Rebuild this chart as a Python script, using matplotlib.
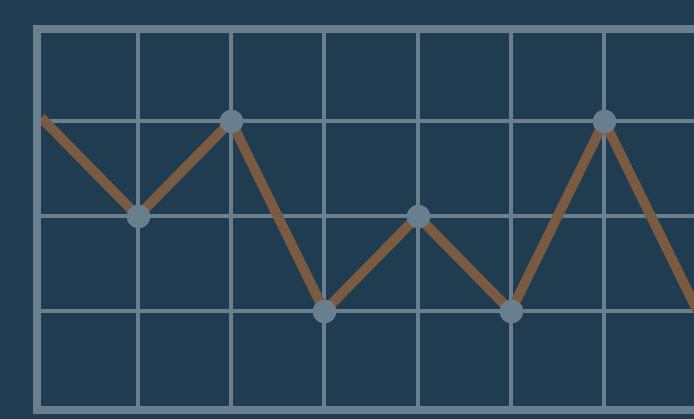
import numpy as np
import matplotlib.pyplot as plt

# values (grid units)
x_idx = [0, 1, 2, 3, 4, 5, 6, 7]
y_vals = [3, 2, 3, 1, 2, 1, 3, 1]
x_grid = [1, 2, 3, 4, 5, 6]
y_grid = [1, 2, 3]

BG = "#203c50"
GRID = "#6a808f"
LINE = "#7a5a40"
MARK = "#6a7f8e"

W, H = 694, 419
fig = plt.figure(figsize=(W / 100, H / 100), dpi=100, facecolor=BG)

# axes frame: left edge at 37px, top at 29px, bottom at 410px, right edge off the image
left_px, top_px, bottom_px, right_px = 37, 29, 410, 780
ax = fig.add_axes([left_px / W, (H - bottom_px) / H,
                   (right_px - left_px) / W, (bottom_px - top_px) / H])
ax.set_facecolor(BG)

px_per_unit = 93.3
x0 = -0.08
ax.set_xlim(x0, x0 + (right_px - left_px) / px_per_unit)
ax.set_ylim(-0.04, 3.97)

ax.set_xticks(x_grid)
ax.set_yticks(y_grid)
ax.tick_params(length=0, labelbottom=False, labelleft=False)
ax.grid(True, color=GRID, linewidth=2.9)
ax.set_axisbelow(True)

for s in ax.spines.values():
    s.set_color(GRID)
    s.set_linewidth(5.8)
    s.set_zorder(5)

ax.plot(x_idx, y_vals, color=LINE, linewidth=7.2, solid_capstyle="projecting",
        zorder=3)
ax.plot(x_idx[1:7], y_vals[1:7], "o", color=MARK, markersize=17,
        markeredgewidth=0, zorder=4)

plt.savefig("out.png", dpi=100, facecolor=BG)
